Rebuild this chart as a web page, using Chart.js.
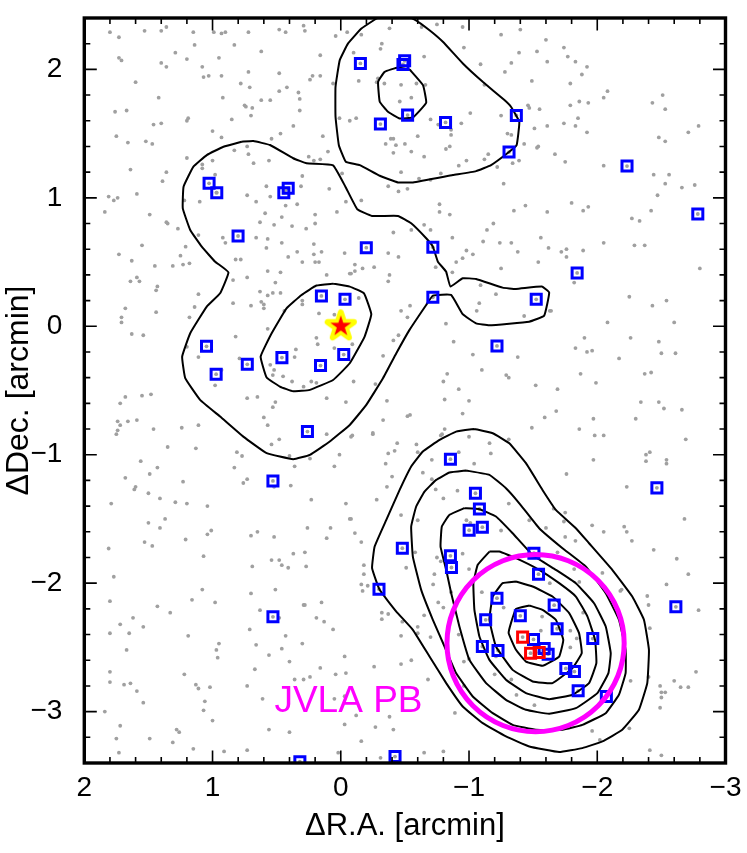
<!DOCTYPE html>
<html><head><meta charset="utf-8">
<style>html,body{margin:0;padding:0;background:#fff}canvas{display:block}</style>
<script src="https://cdn.jsdelivr.net/npm/chart.js@4"></script>
</head><body><canvas id="c" width="747" height="853"></canvas>
<script>
const xTickValues=[2,1,0,-1,-2,-3];
const yTickValues=[2,1,0,-1,-2,-3];
const xTitle="ΔR.A. [arcmin]";
const yTitle="ΔDec. [arcmin]";
const beamLabel="JVLA PB";
const beamLabelAt=[-0.06,-3.0];
const beamCentre=[-1.519,-2.467];
const galaxyCentre=[0,0];

const contourSouth1=[[-1.042,-0.799],[-0.899,-0.820],[-0.770,-0.885],[-0.640,-0.975],[-0.549,-1.092],[-0.459,-1.274],[-0.355,-1.507],[-0.264,-1.715],[-0.244,-1.883],[-0.303,-2.052],[-0.433,-2.221],[-0.562,-2.363],[-0.692,-2.571],[-0.822,-2.778],[-0.951,-2.960],[-1.107,-3.090],[-1.288,-3.193],[-1.470,-3.271],[-1.703,-3.315],[-1.884,-3.284],[-2.040,-3.232],[-2.195,-3.141],[-2.325,-2.985],[-2.390,-2.778],[-2.403,-2.519],[-2.364,-2.285],[-2.273,-2.104],[-2.117,-1.896],[-1.936,-1.689],[-1.833,-1.572],[-1.677,-1.429],[-1.573,-1.274],[-1.444,-1.066],[-1.314,-0.911],[-1.185,-0.833],[-1.042,-0.799]];
const contourSouth2=[[-0.977,-1.123],[-0.848,-1.139],[-0.744,-1.196],[-0.653,-1.287],[-0.588,-1.403],[-0.549,-1.559],[-0.562,-1.793],[-0.627,-2.052],[-0.718,-2.285],[-0.809,-2.493],[-0.899,-2.700],[-1.029,-2.882],[-1.185,-3.012],[-1.340,-3.103],[-1.521,-3.141],[-1.729,-3.141],[-1.884,-3.103],[-2.066,-3.012],[-2.169,-2.869],[-2.221,-2.700],[-2.221,-2.519],[-2.169,-2.285],[-2.066,-2.078],[-1.910,-1.870],[-1.729,-1.728],[-1.547,-1.572],[-1.392,-1.378],[-1.288,-1.261],[-1.159,-1.157],[-0.977,-1.123]];
const contourSouth3=[[-0.964,-1.416],[-0.848,-1.468],[-0.788,-1.559],[-0.778,-1.715],[-0.822,-1.896],[-0.861,-2.078],[-0.925,-2.337],[-1.003,-2.597],[-1.133,-2.778],[-1.288,-2.908],[-1.444,-2.986],[-1.625,-3.017],[-1.833,-2.973],[-2.001,-2.856],[-2.087,-2.700],[-2.105,-2.545],[-2.066,-2.337],[-1.975,-2.156],[-1.833,-2.000],[-1.677,-1.896],[-1.496,-1.780],[-1.340,-1.611],[-1.210,-1.481],[-1.081,-1.424],[-0.964,-1.416]];
const contourSouth4=[[-1.159,-1.754],[-1.068,-1.857],[-1.034,-2.000],[-1.042,-2.208],[-1.081,-2.415],[-1.159,-2.597],[-1.288,-2.752],[-1.444,-2.856],[-1.625,-2.903],[-1.807,-2.869],[-1.936,-2.778],[-1.993,-2.623],[-1.983,-2.441],[-1.923,-2.259],[-1.833,-2.104],[-1.703,-2.000],[-1.547,-1.896],[-1.366,-1.805],[-1.236,-1.754],[-1.159,-1.754]];
const contourSouth5=[[-1.366,-1.987],[-1.262,-2.000],[-1.185,-2.104],[-1.159,-2.285],[-1.210,-2.493],[-1.340,-2.675],[-1.496,-2.765],[-1.651,-2.778],[-1.807,-2.661],[-1.879,-2.545],[-1.858,-2.389],[-1.781,-2.233],[-1.651,-2.104],[-1.496,-2.026],[-1.366,-1.987]];
const contourSouth6=[[-1.470,-2.174],[-1.366,-2.200],[-1.327,-2.311],[-1.309,-2.389],[-1.366,-2.519],[-1.444,-2.610],[-1.573,-2.643],[-1.703,-2.571],[-1.735,-2.441],[-1.677,-2.285],[-1.573,-2.208],[-1.470,-2.174]];
const contourCentre1=[[0.773,1.437],[0.915,1.398],[1.045,1.333],[1.149,1.243],[1.226,1.087],[1.232,0.918],[1.174,0.750],[1.084,0.620],[0.980,0.503],[0.876,0.420],[0.941,0.257],[1.045,0.153],[1.174,-0.054],[1.237,-0.236],[1.213,-0.404],[1.097,-0.573],[0.941,-0.703],[0.760,-0.859],[0.578,-0.988],[0.371,-1.035],[0.241,-1.001],[0.086,-0.897],[-0.070,-0.768],[-0.199,-0.612],[-0.329,-0.405],[-0.433,-0.210],[-0.536,-0.028],[-0.666,0.166],[-0.718,0.239],[-0.860,0.244],[-0.951,0.094],[-1.055,0.023],[-1.158,0.008],[-1.469,0.036],[-1.586,0.083],[-1.625,0.262],[-1.568,0.309],[-1.366,0.291],[-1.262,0.301],[-1.055,0.368],[-0.951,0.374],[-0.855,0.309],[-0.821,0.426],[-0.757,0.503],[-0.718,0.620],[-0.666,0.685],[-0.549,0.802],[-0.446,0.859],[-0.243,0.859],[-0.129,0.911],[-0.036,1.087],[0.060,1.253],[0.267,1.269],[0.371,1.308],[0.552,1.411],[0.682,1.442],[0.773,1.437]];
const contourCentre2=[[0.060,0.332],[0.190,0.317],[0.306,0.244],[0.423,0.140],[0.539,-0.054],[0.625,-0.236],[0.578,-0.399],[0.475,-0.469],[0.371,-0.506],[0.241,-0.495],[0.060,-0.418],[-0.070,-0.288],[-0.186,-0.080],[-0.238,0.094],[-0.181,0.257],[-0.070,0.309],[0.060,0.332]];
const contourNorth1=[[-0.278,2.396],[-0.161,2.318],[-0.057,2.202],[0.008,2.072],[0.041,1.864],[0.041,1.631],[0.015,1.410],[-0.039,1.281],[-0.148,1.255],[-0.304,1.172],[-0.446,1.120],[-0.563,1.120],[-0.874,1.177],[-1.055,1.208],[-1.172,1.255],[-1.314,1.359],[-1.371,1.410],[-1.392,1.592],[-1.327,1.709],[-1.276,1.761],[-1.107,1.903],[-0.952,2.046],[-0.796,2.215],[-0.692,2.305],[-0.576,2.388],[-0.43,2.45],[-0.278,2.396]];
const contourNorth2=[[-0.537,1.999],[-0.446,2.015],[-0.342,1.981],[-0.291,1.903],[-0.304,1.748],[-0.368,1.670],[-0.459,1.618],[-0.563,1.626],[-0.666,1.740],[-0.641,1.877],[-0.537,1.999]];
const contours=[contourSouth1,contourSouth2,contourSouth3,contourSouth4,contourSouth5,contourSouth6,contourCentre1,contourCentre2,contourNorth1,contourNorth2];

const blueSources=[[-0.153,2.046],[-0.498,2.067],[-0.485,2.038],[-0.521,1.644],[-0.309,1.574],[-0.817,1.587],[-1.369,1.641],[-1.312,1.356],[1.027,1.113],[0.967,1.040],[0.444,1.040],[0.410,1.074],[0.801,0.703],[-0.199,0.612],[-0.718,0.615],[-0.718,0.226],[-1.524,0.210],[0.151,0.236],[-0.033,0.210],[-0.023,-0.220],[0.459,-0.244],[0.158,-0.306],[1.047,-0.156],[0.729,-0.296],[0.972,-0.373],[0.260,-0.820],[-1.218,-0.153],[-0.855,-1.035],[-2.232,1.247],[-2.784,0.874],[-1.843,0.415],[0.529,-1.204],[-2.465,-1.258],[0.529,-2.262],[-2.613,-2.184],[0.319,-3.39],[-0.423,-3.35],[-1.050,-1.300],[-1.081,-1.422],[-1.104,-1.564],[-1.001,-1.588],[-0.480,-1.728],[-0.855,-1.787],[-0.863,-1.878],[-0.298,-2.047],[-1.506,-1.767],[-1.542,-1.930],[-1.218,-2.117],[-1.664,-2.171],[-1.400,-2.254],[-1.130,-2.285],[-1.687,-2.355],[-1.965,-2.431],[-1.104,-2.493],[-1.226,-2.524],[-1.503,-2.438],[-1.586,-2.508],[-1.617,-2.553],[-1.755,-2.664],[-1.822,-2.688],[-1.851,-2.838],[-2.071,-2.882]];
const redSources=[[-1.418,-2.420],[-1.480,-2.545],[-1.547,-2.540]];

const grayDotsNorthWest=[[1.80,2.29],[1.73,2.25],[1.53,2.30],[1.40,2.30],[1.36,2.33],[1.15,2.29],[.99,2.29],[.93,2.28],[.90,2.29],[.72,2.29],[.48,2.31],[.43,2.29],[.29,2.34],[.28,2.30],[1.14,2.19],[.83,2.19],[1.73,2.09],[1.71,2.07],[1.29,2.13],[1.20,2.08],[.95,2.09],[1.40,2.05],[1.36,2.02],[.62,2.14],[.16,2.11],[1.08,2.02],[1.07,1.94],[1.03,1.95],[.93,1.95],[.72,1.98],[.48,1.97],[.22,1.95],[.24,1.92],[.16,1.95],[.06,1.89],[1.60,1.90],[.78,1.89],[.71,1.86],[.48,1.83],[.42,1.86],[.33,1.82],[1.42,1.78],[.92,1.78],[.62,1.76],[.55,1.76],[.32,1.77],[1.76,1.67],[1.67,1.68],[.75,1.72],[.74,1.71],[.69,1.70],[.32,1.68],[1.19,1.62],[1.20,1.60],[.85,1.61],[.70,1.64],[1.46,1.57],[1.40,1.58],[.37,1.56],[1.75,1.48],[1.00,1.52],[.93,1.47],[.47,1.50],[.54,1.46],[.14,1.48],[1.66,1.43],[1.52,1.44],[1.47,1.42],[.10,1.36],[.83,1.37],[.73,1.40],[.72,1.34],[1.20,1.31],[1.00,1.29],[.56,1.29],[.68,1.27],[1.08,1.26],[1.08,1.23],[.25,1.32],[.21,1.29],[.16,1.30],[1.64,1.22],[1.36,1.20],[1.39,1.13],[.98,1.18],[.30,1.17],[.58,1.09],[.31,1.09],[.09,1.07],[1.81,1.01],[1.77,.98],[1.74,1.00],[1.59,1.03],[.73,1.02],[.55,1.01],[.66,.97],[1.10,.97],[1.22,.98],[.34,.95],[.43,.94],[.97,1.04],[.43,1.06]];
const grayDotsNorth=[[.04,2.26],[-.05,2.29],[-.16,2.27],[-.38,2.32],[-.63,2.33],[-.75,2.35],[-.95,2.33],[-1.25,2.27],[-1.40,2.31],[-1.60,2.23],[-.32,2.20],[-.31,2.16],[-.10,2.13],[-.65,2.10],[-.96,2.17],[-1.39,2.13],[-1.53,2.14],[-1.33,2.05],[-1.61,2.06],[-1.09,2.04],[-1.28,1.98],[-.14,1.91],[-.29,1.93],[-.28,1.90],[-.34,1.89],[-.47,1.88],[-.59,1.89],[-.66,1.88],[-1.49,1.91],[-1.12,1.88],[-.46,1.75],[-.55,1.78],[-1.46,1.72],[-1.47,1.70],[-1.55,1.69],[.01,1.62],[-.07,1.60],[-.12,1.62],[-.70,1.61],[-.76,1.57],[-.94,1.58],[-1.01,1.66],[-1.25,1.64],[-1.61,1.56],[-1.51,1.54],[-.86,1.53],[-.86,1.49],[-.39,1.46],[-.41,1.46],[-.60,1.48],[-1.30,1.50],[-1.33,1.49],[-.35,1.42],[-.43,1.41],[-.50,1.42],[-1.43,1.42],[-1.54,1.40],[-1.53,1.39],[-.82,1.38],[-.85,1.40],[-.41,1.35],[-.55,1.36],[-1.15,1.34],[-.65,1.32],[-1.12,1.30],[-.98,1.29],[-.92,1.25],[-1.34,1.27],[-1.39,1.29],[-1.22,1.24],[-.47,1.20],[-.01,1.19],[-.78,1.19],[-.61,1.15],[-.70,1.14],[-1.27,1.11],[-.37,1.09],[-.45,1.05],[-.52,1.07],[-.04,.97],[-.16,.98]];
const grayDotsCentre=[[1.27,.76],[1.21,.62],[1.25,.55],[1.23,.48],[1.18,.49],[1.31,.47],[1.11,.71],[.92,.69],[.90,.65],[.66,.69],[.57,.68],[.58,.61],[.46,.65],[.63,.81],[.59,.88],[.52,.79],[.46,.85],[.38,.78],[.27,.76],[.20,.80],[.20,.87],[.03,.89],[.82,.52],[.78,.52],[.41,.54],[.30,.50],[.34,.58],[.21,.64],[.21,.56],[.20,.50],[.17,.50],[.15,.58],[-.03,.57],[-.11,.48],[-.17,.45],[-.26,.46],[-.11,.43],[-.08,.41],[-.07,.41],[.57,.43],[.47,.42],[.73,.38],[.84,.36],[.51,.34],[.11,.40],[-.38,.40],[-.37,.35],[-.37,.57],[-.45,.54],[-.41,.73],[-.55,.75],[-.65,.79],[-.70,.75],[-.74,.46],[-.87,.42],[-.87,.69],[-.90,.50],[-.95,.53],[-.98,.59],[-1.03,.56],[-1.11,.66],[-1.14,.75],[-1.19,.80],[-1.24,.65],[-1.33,.65],[-1.38,.58],[-1.35,.90],[-1.44,.94],[-1.61,.89],[-1.56,.69],[-1.62,.61],[-1.54,.50],[-1.72,.58],[-1.76,.60],[-1.76,.54],[-1.25,.45],[-.77,.95],[-.77,.89],[-.85,.87],[1.11,.25],[.84,.18],[.70,.16],[.63,.27],[.57,.24],[.53,.26],[.47,.26],[.62,.19],[.60,.17],[.60,.14],[.44,.12],[.30,.20],[.30,.17],[.17,.10],[.05,.09],[-.14,.22],[-.47,.12],[-.54,.16],[-.52,.07],[-.82,.02],[-1.09,.32],[-1.21,.25],[-1.08,.18],[-1.06,.12],[-1.43,.08],[-1.64,.12],[1.18,.07],[1.14,.15],[.57,-.02],[.82,-.08],[.19,-.09],[.18,-.14],[.05,-.17],[.35,-.18],[.36,-.24],[-.09,-.14],[-.41,-.11],[-.45,-.07],[-.33,-.23],[-.88,-.12],[-1.03,-.22],[-1.10,-.34],[-1.38,-.24],[-1.29,-.38],[-1.31,-.40],[1.20,-.16],[1.11,-.24],[.79,-.25],[.55,-.30],[.52,-.34],[.53,-.38],[.45,-.39],[.38,-.43],[.29,-.47],[.23,-.43],[.19,-.44],[-.10,-.43],[.98,-.46],[.93,-.34],[-.27,-.45],[-.83,-.37],[-.80,-.43],[-.92,-.49],[-1.52,-.46],[-1.69,-.49],[.73,-.56],[.65,-.55],[.51,-.59],[.53,-.63],[.11,-.56],[-.04,-.59],[-.36,-.58],[-.81,-.57],[-1.00,-.58],[.60,-.71],[.57,-.77],[1.24,-.79],[1.11,-.77],[-1.68,-.66],[-.95,-.68],[-.54,-.69],[-.52,-.70],[-1.59,-.71],[-1.49,-.79],[-.33,-.73],[.11,-.84],[-.08,-.86],[-.25,-.83],[-.81,-.80],[-1.00,-.86],[-1.31,-.88],[-.79,-.84],[.54,-.92],[.48,-.88],[1.13,-.95],[.81,-.98],[.77,-1.01],[.40,-1.01],[.24,-1.03],[.01,-1.00],[-.44,-.91],[-.59,-.92],[-.42,-.97],[-.37,-.99],[-.60,-.98],[-1.16,-.91],[-1.17,-.99],[-.92,-.98],[-.71,-1.04],[-1.04,-1.07],[-.35,-1.07],[.83,-1.10],[.36,-1.09],[.05,-1.09]];
const grayDotsSouth=[[-.09,-.85],[-.25,-.84],[-.78,-.85],[-1.86,-.80],[-1.98,-.85],[-2.05,-.85],[-2.38,-1.00],[-2.41,-.98],[-2.38,-1.05],[-2.54,-1.04],[-1.97,-1.04],[-1.76,-1.15],[-.40,-1.17],[-.64,-1.14],[-.71,-1.19],[-.36,-1.25],[-.74,-1.27],[-.91,-1.28],[-2.23,-1.25],[-.28,-1.35],[-.80,-1.34],[-.47,-1.47],[-1.31,-1.38],[-1.75,-1.45],[-1.66,-1.42],[-.60,-1.51],[-.08,-1.50],[-.98,-1.51],[-1.01,-1.53],[-1.47,-1.51],[-1.74,-1.52],[-1.96,-1.55],[-2.21,-1.56],[-2.23,-1.60],[-.11,-1.61],[-1.25,-1.59],[-1.60,-1.57],[-.16,-1.68],[-1.75,-1.64],[-1.83,-1.67],[-2.05,-1.60],[-2.27,-1.67],[-2.44,-1.74],[-.58,-1.76],[-.95,-1.77],[-1.69,-1.76],[-.75,-1.80],[-.78,-1.83],[-.51,-1.88],[-1.00,-1.89],[-.18,-1.86],[-.18,-1.93],[-.73,-1.93],[-.72,-2.01],[-1.82,-1.89],[-1.91,-1.90],[-1.63,-2.00],[-2.04,-1.92],[-1.86,-1.99],[-2.54,-2.01],[-.16,-2.01],[-.17,-2.06],[-.86,-2.07],[-1.10,-2.07],[-2.19,-2.05],[-2.18,-2.06],[-2.39,-2.10],[-2.40,-2.17],[-.76,-2.15],[-.65,-2.25],[-.32,-2.23],[-.32,-2.28],[-.37,-2.24],[-.80,-2.19],[-1.27,-2.19],[-1.57,-2.26],[-1.89,-2.23],[-.48,-2.30],[-.60,-2.34],[-.60,-2.39],[-2.41,-2.35],[-.47,-2.41],[-.70,-2.42],[-.92,-2.40],[-1.84,-2.43],[-1.79,-2.37],[-1.79,-2.50],[-1.56,-2.37],[-.55,-2.60],[-.26,-2.65],[-.47,-2.63],[-.96,-2.61],[-1.00,-2.59],[-1.21,-2.57],[-.68,-2.75],[-1.20,-2.71],[-1.33,-2.75],[-2.26,-2.76],[-2.40,-2.73],[-.96,-2.80],[-1.37,-2.87],[-2.49,-2.80],[-2.50,-2.85],[-2.53,-2.85],[-2.50,-2.89],[-1.51,-2.95],[-2.49,-2.97],[-.89,-3.01],[-.38,-3.04],[-.27,-3.12],[-.41,-3.14],[-.16,-3.23],[-1.96,-3.15],[-2.25,-3.13],[-2.02,-3.22],[-2.41,-3.30],[-2.50,-3.34],[-.65,-3.32],[-.80,-3.31],[-.31,-3.36]];
const grayDotsEast=[[-1.74,2.17],[-1.77,2.10],[-1.83,2.06],[-1.92,2.02],[-1.88,1.96],[-1.79,1.89],[-2.08,1.83],[-2.05,1.78],[-1.86,1.75],[-1.93,1.74],[-1.79,1.72],[-2.51,1.80],[-2.43,1.74],[-2.53,1.69],[-1.85,1.62],[-1.74,1.58],[-1.83,1.56],[-1.92,1.51],[-2.79,1.56],[-2.71,1.51],[-2.48,1.47],[-2.53,1.44],[-1.67,1.34],[-1.75,1.28],[-2.05,1.25],[-2.44,1.18],[-2.56,1.18],[-2.53,1.11],[-2.66,1.08],[-2.76,1.10],[-2.47,1.02],[-1.80,.96],[-1.93,.93],[-1.89,.90],[-2.42,.90],[-2.27,.84],[-2.33,.82],[-1.89,.59],[-2.05,.65],[-2.29,.63],[-2.37,.63],[-2.80,.45],[-1.82,.34],[-2.25,.23],[-2.43,.16],[-2.54,.20],[-1.63,.12],[-2.08,.03],[-2.60,.03],[-1.90,-.09],[-2.26,-.09],[-2.48,-.12],[-1.83,-.17],[-1.92,-.20],[-1.96,-.19],[-2.17,-.25],[-2.50,-.21],[-2.61,-.21],[-1.87,-.37],[-2.37,-.37],[-2.42,-.36],[-1.99,-.44],[-2.34,-.59],[-2.48,-.59],[-2.52,-.64],[-2.66,-.65],[-1.97,-.72],[-2.30,-.72],[-2.69,-.88],[-2.54,-1.07],[-2.68,-1.50],[-2.62,-1.81],[-2.71,-1.93],[-2.79,-2.21],[-2.77,-2.69],[-2.60,-2.76],[-2.65,-2.81],[-2.71,-2.81]];
const grayDotsWest=[[1.84,.89],[1.49,.87],[1.36,.81],[1.35,.80],[1.55,.63],[1.73,.56],[1.63,.51],[1.45,.47],[1.59,.38],[1.64,.35],[1.57,.35],[1.43,.31],[1.44,.28],[1.68,.14],[1.44,.11],[1.71,.07],[1.71,.03],[1.63,-.06],[1.54,-.07],[1.68,-.55],[1.72,-.60],[1.55,-.54],[1.48,-.53],[1.74,-.74],[1.72,-.77],[1.66,-.74],[1.59,-.73],[1.74,-.81],[1.75,-.84],[1.46,-.80],[1.35,-.94],[1.56,-1.05],[1.43,-1.10],[1.49,-1.15],[1.68,-1.18]];
const grayDotsSouthWest=[[1.23,-1.21],[.76,-1.22],[.73,-1.19],[.52,-1.25],[.39,-1.24],[1.60,-1.25],[1.61,-1.27],[1.50,-1.30],[1.41,-1.34],[1.79,-1.38],[1.29,-1.37],[1.20,-1.38],[1.04,-1.40],[.23,-1.35],[-.04,-1.38],[-.07,-1.50],[1.50,-1.53],[1.37,-1.50],[1.41,-1.57],[.26,-1.57],[.08,-1.57],[1.01,-1.59],[1.04,-1.62],[.70,-1.63],[.65,-1.60],[.52,-1.64],[.11,-1.65],[1.21,-1.66],[1.53,-1.68],[1.47,-1.71],[1.81,-1.73],[1.07,-1.79],[.37,-1.77],[.28,-1.76],[.54,-1.82],[.48,-1.82],[.46,-1.86],[.41,-1.88],[.27,-1.87],[.69,-1.87],[1.77,-1.95],[-.21,-2.02],[1.08,-2.05],[.51,-2.05],[.70,-2.08],[1.16,-2.13],[1.80,-2.14],[.98,-2.15],[1.43,-2.18],[1.33,-2.23],[.29,-2.17],[.28,-2.17],[.15,-2.15],[.63,-2.21],[.48,-2.27],[.19,-2.27],[.13,-2.30],[1.62,-2.27],[1.72,-2.32],[1.54,-2.34],[1.80,-2.39],[1.65,-2.39],[1.19,-2.41],[.71,-2.36],[.06,-2.36],[.43,-2.41],[.95,-2.47],[.97,-2.52],[.96,-2.58],[1.67,-2.52],[.66,-2.48],[.30,-2.47],[.46,-2.51],[.56,-2.56],[.40,-2.61],[-.03,-2.57],[.67,-2.67],[.16,-2.66],[1.80,-2.69],[1.22,-2.71],[.04,-2.71],[-.04,-2.70],[.36,-2.75],[.29,-2.75],[.24,-2.73],[1.80,-2.77],[1.69,-2.79],[1.64,-2.78],[1.13,-2.79],[1.11,-2.82],[1.02,-2.81],[.73,-2.80],[1.59,-2.84],[.61,-2.90],[.05,-2.90],[-.03,-2.88],[1.54,-2.93],[1.06,-2.92],[1.84,-3.00],[1.07,-2.99],[-.12,-3.03],[1.00,-3.07],[1.72,-3.11],[-.03,-3.10],[1.28,-3.14],[1.26,-3.16],[.56,-3.14],[.40,-3.16],[1.75,-3.21],[1.49,-3.21],[1.31,-3.24],[1.15,-3.29],[.91,-3.31],[.73,-3.30],[1.73,-3.32],[.02,-3.32]];
const grayDots=[...grayDotsNorthWest,...grayDotsNorth,...grayDotsCentre,...grayDotsSouth,...grayDotsEast,...grayDotsWest,...grayDotsSouthWest,...blueSources,...redSources];

const pts=a=>a.map(p=>({x:p[0],y:p[1]}));

function starImage(){
  const c=document.createElement('canvas');c.width=40;c.height=40;
  const g=c.getContext('2d');
  const path=R=>{g.beginPath();for(let i=0;i<10;i++){const r=i%2?R*0.382:R,a=-Math.PI/2+i*Math.PI/5;g.lineTo(20+r*Math.cos(a),20+r*Math.sin(a));}g.closePath();};
  path(13.8);g.fillStyle='#ffff00';g.strokeStyle='#ffff00';g.lineWidth=6;g.lineJoin='round';g.fill();g.stroke();
  path(11);g.fillStyle='#ff0000';g.fill();
  return c;
}

const frameAndTicks={id:'frameAndTicks',
  afterDatasetsDraw(chart){
    const {ctx,chartArea:a,scales:{x,y}}=chart;
    ctx.save();ctx.strokeStyle='#000';
    const majorLen=12.5,minorLen=6;
    ctx.lineWidth=1.6;
    for(let i=-15;i<=10;i++){
      const v=i/5,major=i%5===0,len=major?majorLen:minorLen,px=x.getPixelForValue(v);
      ctx.beginPath();ctx.moveTo(px,a.bottom);ctx.lineTo(px,a.bottom-len);ctx.moveTo(px,a.top);ctx.lineTo(px,a.top+len);ctx.stroke();
    }
    for(let i=-17;i<=12;i++){
      const v=i/5,major=i%5===0,len=major?majorLen:minorLen,py=y.getPixelForValue(v);
      ctx.beginPath();ctx.moveTo(a.left,py);ctx.lineTo(a.left+len,py);ctx.moveTo(a.right,py);ctx.lineTo(a.right-len,py);ctx.stroke();
    }
    ctx.lineWidth=3.4;ctx.strokeRect(a.left,a.top,a.right-a.left,a.bottom-a.top);
    ctx.fillStyle='#ff00ff';ctx.font='37px "Liberation Sans"';ctx.textAlign='center';ctx.textBaseline='alphabetic';
    ctx.fillText(beamLabel,x.getPixelForValue(beamLabelAt[0]),y.getPixelForValue(beamLabelAt[1]));
    ctx.restore();
  }};

const datasets=[
  {data:pts(grayDots),order:50,showLine:false,pointRadius:1.9,pointBackgroundColor:'#a0a0a0',pointBorderWidth:0},
  ...contours.map(c=>({data:pts(c),order:40,showLine:true,tension:0.1,borderColor:'#000',borderWidth:2,pointRadius:0,fill:false})),
  {data:pts(blueSources),order:30,showLine:false,pointStyle:'rect',pointRadius:7.1,pointBorderColor:'#0000ff',pointBorderWidth:3,pointBackgroundColor:'rgba(0,0,0,0)'},
  {data:pts(redSources),order:25,showLine:false,pointStyle:'rect',pointRadius:7.1,pointBorderColor:'#ff0000',pointBorderWidth:3,pointBackgroundColor:'rgba(0,0,0,0)'},
  {data:pts([beamCentre]),order:15,showLine:false,pointStyle:'circle',pointRadius:88.6,pointBorderColor:'#ff00ff',pointBorderWidth:5,pointBackgroundColor:'rgba(0,0,0,0)',clip:false},
  {data:pts([galaxyCentre]),order:20,showLine:false,pointStyle:starImage(),pointRadius:18},
];

const fontTick={family:'"Liberation Sans"',size:28};
const fontTitleX={family:'"Liberation Sans"',size:31};
const fontTitleY={family:'"Liberation Sans"',size:32};
const fmt=v=>String(v).replace('-','\u2212');
new Chart(document.getElementById('c'),{
  type:'scatter',
  data:{datasets},
  options:{
    responsive:false,animation:false,devicePixelRatio:1,
    layout:{autoPadding:false,padding:{left:0,top:18,right:21.5,bottom:0}},
    plugins:{legend:{display:false},tooltip:{enabled:false}},
    events:[],
    scales:{
      x:{type:'linear',min:-3,max:2,reverse:true,
        afterBuildTicks(s){s.ticks=xTickValues.map(v=>({value:v}));},
        afterFit(s){s.height=90;s.paddingLeft=0;s.paddingRight=0;},
        grid:{display:false},border:{display:false},
        ticks:{color:'#000',font:fontTick,padding:0,maxRotation:0,autoSkip:false,callback:fmt},
        title:{display:true,text:xTitle,color:'#000',font:fontTitleX,padding:{top:0,bottom:8}}},
      y:{type:'linear',min:-3.4,max:2.4,
        afterBuildTicks(s){s.ticks=yTickValues.map(v=>({value:v}));},
        afterFit(s){s.width=84.3;s.paddingTop=0;s.paddingBottom=0;},
        grid:{display:false},border:{display:false},
        ticks:{color:'#000',font:fontTick,padding:14,autoSkip:false,callback:fmt},
        title:{display:true,text:yTitle,color:'#000',font:fontTitleY,padding:{top:0,bottom:0}}}
    }
  },
  plugins:[frameAndTicks]
});
</script></body></html>
